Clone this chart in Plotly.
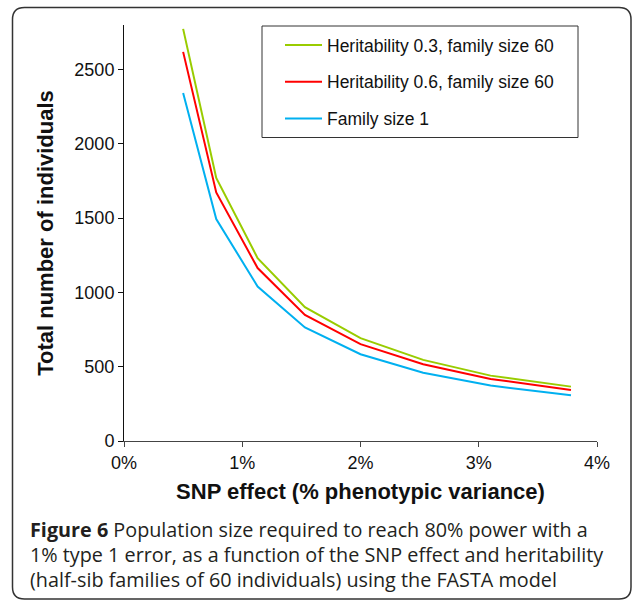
import plotly.graph_objects as go

snp_effect = [0.5, 0.78, 1.13, 1.53, 2.0, 2.53, 3.1, 3.78]
h03_fam60 = [2774, 1770, 1231, 901, 692, 546, 440, 366]
h06_fam60 = [2619, 1673, 1164, 849, 652, 517, 418, 344]
fam1 = [2343, 1494, 1040, 764, 584, 460, 373, 308]

series_names = ["Heritability 0.3, family size 60", "Heritability 0.6, family size 60", "Family size 1"]
series_colors = ["#99cc00", "#ff0000", "#00b0f0"]
x_ticks = [0, 1, 2, 3, 4]
x_ticklabels = ["0%", "1%", "2%", "3%", "4%"]
y_ticks = [0, 500, 1000, 1500, 2000, 2500]

W, H = 634, 604
L, R, T, B = 124, 597, 25, 441
pw, ph = R - L, B - T

def px(x):
    return (x - L) / pw

def py(y):
    return (B - y) / ph

AR = "Arial, Liberation Sans, Helvetica"

fig = go.Figure()
for name, vals, col in zip(series_names, [h03_fam60, h06_fam60, fam1], series_colors):
    fig.add_trace(go.Scatter(x=snp_effect, y=vals, mode="lines", name=name,
                             line=dict(color=col, width=2), legendgroup=name))

fig.update_layout(
    width=W, height=H,
    margin=dict(l=L, r=W - R, t=T, b=H - B, pad=0),
    paper_bgcolor="white", plot_bgcolor="white",
    font=dict(family=AR, size=17, color="#111"),
    xaxis=dict(range=[0, 4], tickvals=x_ticks, ticktext=x_ticklabels,
               showgrid=False, zeroline=False, showline=True, linecolor="#444", linewidth=1,
               ticks="outside", ticklen=5, tickcolor="#444",
               tickfont=dict(size=18, family=AR, color="#111"),
               title=dict(text="<b>SNP effect (% phenotypic variance)</b>",
                          font=dict(size=22, family=AR, color="#111"),
                          standoff=12)),
    yaxis=dict(range=[0, 2800], tickvals=y_ticks,
               showgrid=False, zeroline=False, showline=True, linecolor="#111", linewidth=1,
               ticks="outside", ticklen=5, tickcolor="#111",
               tickfont=dict(size=18, family=AR, color="#111"),
               title=dict(text="<b>Total number of individuals</b>",
                          font=dict(size=22, family=AR, color="#111"),
                          standoff=14)),
    legend=dict(x=px(280), y=py(27), xanchor="left", yanchor="top",
                bgcolor="rgba(0,0,0,0)", borderwidth=0,
                font=dict(size=17.5, family=AR, color="#111"),
                itemwidth=37, tracegroupgap=11, traceorder="grouped"),
    showlegend=True,
)

# legend frame
fig.add_shape(type="rect", xref="paper", yref="paper",
              x0=px(262), x1=px(578), y0=py(137.5), y1=py(26),
              line=dict(color="#333", width=1), fillcolor="rgba(0,0,0,0)")

# outer rounded frame
x0, x1, y0, y1, r = 12.5, 631, 7.5, 599, 12
rx, ry = r / pw, r / ph
X0, X1, Y0, Y1 = px(x0), px(x1), py(y1), py(y0)
path = (f"M {X0+rx},{Y1} L {X1-rx},{Y1} Q {X1},{Y1} {X1},{Y1-ry} "
        f"L {X1},{Y0+ry} Q {X1},{Y0} {X1-rx},{Y0} L {X0+rx},{Y0} "
        f"Q {X0},{Y0} {X0},{Y0+ry} L {X0},{Y1-ry} Q {X0},{Y1} {X0+rx},{Y1} Z")
fig.add_shape(type="path", xref="paper", yref="paper", path=path,
              line=dict(color="#333", width=1.5))

caption_lines = [
    "<b>Figure 6</b> Population size required to reach 80% power with a",
    "1% type 1 error, as a function of the SNP effect and heritability",
    "(half-sib families of 60 individuals) using the FASTA model",
]
for i, line in enumerate(caption_lines):
    fig.add_annotation(text=line, xref="paper", yref="paper", x=px(28), y=py(529 + 25 * i),
                       xanchor="left", yanchor="middle", showarrow=False, align="left",
                       font=dict(family="Open Sans", size=19.8, color="#231f20"))

fig.write_html("out.html", config={"displayModeBar": False},
               post_script="document.body.style.margin='0';document.body.style.overflow='hidden';")
